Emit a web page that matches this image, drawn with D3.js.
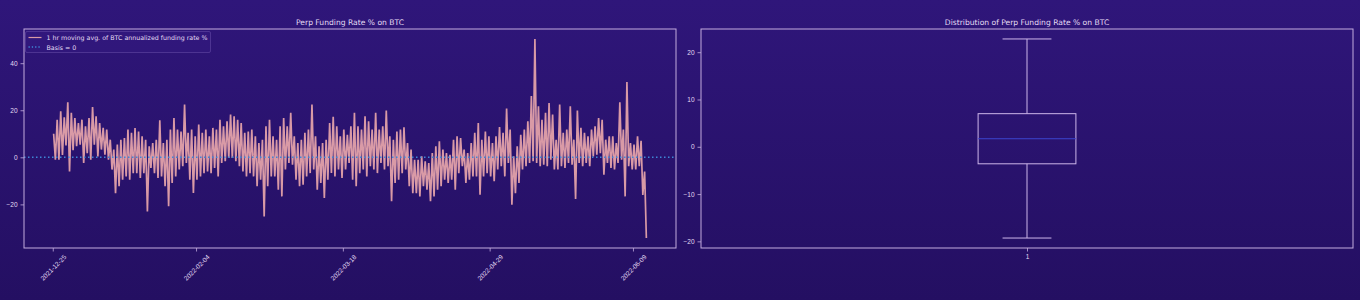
<!DOCTYPE html>
<html>
<head>
<meta charset="utf-8">
<script src="https://cdn.jsdelivr.net/npm/d3@7"></script>
<style>
  html, body { margin: 0; padding: 0; background: #2a1370; }
  svg { display: block; font-family: "DejaVu Sans", sans-serif; }
</style>
</head>
<body>
<svg id="chart" width="1360" height="300"></svg>
<script>
// funding rate samples: one high and one low per ~24h step
var startDate = new Date(2021, 11, 25, 0, 0);
var sampleHours = 24.3;
var fundingHigh = [
  10, 16, 19.6, 17, 23.4, 18.9, 16.7, 14.6, 16, 13.2, 16.7, 21.4, 17.4, 14.6, 12.5, 11.8, 7.5, 3.3, 5.4, 7.5,
  8.2, 11.8, 10.4, 12.5, 11, 8.9, 7.5, 4.7, 6.1, 7.5, 15.7, 6.1, 7.5, 11.8, 16.7, 11.8, 11, 22.4, 10.4, 11.8,
  8.9, 13.9, 10.4, 11.8, 8.9, 12.5, 11.8, 16, 13.2, 15.3, 18.2, 17.4, 16, 14.6, 10.4, 11, 11.8, 8.9, 6.1, 7.5,
  13.2, 16, 8.9, 7.5, 13.2, 16.7, 13.2, 18.9, 8.9, 6.1, 7.5, 10.4, 11.8, 22.4, 8.9, 4.7, 6.1, 7.5, 14.6, 17.2,
  13.2, 8.9, 11.8, 9.6, 13.2, 18.9, 13.2, 11.8, 17.4, 15.3, 11.8, 18.9, 11.8, 13.2, 19.9, 8.9, 7.5, 11, 11.8, 12.8,
  6.1, 3.3, -1, -1, 0.4, -1.7, -2.4, 1.8, 4.7, 6.8, 3.3, 1.8, 1.1, 7.5, 8.9, 8.2, 3.3, 1.8, 6.1, 10.4,
  14.6, 7.5, 11, 8.9, 6.1, 8.9, 12.9, 10.4, 20.7, 11.8, 0.4, 4.7, 9.6, 11.8, 15.3, 26, 50.3, 21.7, 16, 18.9,
  23.1, 18.2, 7.5, 22.4, 10.4, 11.8, 21.7, 7.5, 19.9, 12.5, 10.4, 8.9, 11.8, 13.2, 16.7, 16, 7.5, 8.9, 8.9, 6.1,
  23.4, 11.8, 32, 6.1, 5.4, 8.9, 7, -6
];
var fundingLow = [
  -1, -1, 1, 5, -6, 3, 4.7, 5.4, -2.4, 1.8, -1, 5.4, 0.4, 3.3, 1.1, -1, -5.2, -15.2, -12.3, -9.5,
  -8.1, -9.5, -6.7, -6.7, -8.8, -6.7, -23, -4.5, -6.7, -8.8, -8.1, -12.3, -20.8, -10.9, -8.1, -5.2, -3.8, -2.4, -9.5, -15.2,
  -9.5, -8.1, -6.7, -6, -6.7, -4.5, -8.1, -2.4, -1.7, -0.3, -0.3, -1.7, -3.8, -6, -8.1, -6.7, -8.1, -12.3, -9.5, -25.1,
  -12.3, -8.1, -8.1, -13.8, -16.6, -5.2, -2.4, -3.1, -9.5, -12.3, -11.6, -8.1, -6.7, -5.2, -13.8, -10.9, -17.3, -9.5, -6.7, -8.1,
  -5.2, -8.8, -5.2, -2.4, -9.5, -12.3, -6.7, -5.2, -8.1, -3.8, -5.2, -6.7, -2.4, -5.2, -3.8, -18.7, -10.9, -9.5, -6.7, -5.2,
  -12.3, -15.2, -15.2, -16.6, -12.3, -13.8, -18.7, -16.6, -13.8, -12.3, -9.5, -10.9, -9.5, -13.8, -6.7, -3.8, -10.9, -9.5, -8.1, -8.1,
  -15.9, -8.1, -6.7, -8.1, -10.2, -5.2, -3.8, -8.1, -2.4, -20.1, -15.2, -10.9, -5.2, -3.8, -2.4, -1.7, -2.4, -3.8, -3.1, -3.8,
  -1, -5.2, -5.2, -3.8, -4.5, -2.4, -3.1, -17.7, -2.4, -3.8, -2.4, -3.8, 0.4, 1.1, 1.8, -7.4, -2.4, -4.5, -5.2, -2.4,
  -1, -16.6, -3.8, -5.2, -5.2, -3.8, -16, -34.3
];
var xTickLabels = ['2021-12-25', '2022-02-04', '2022-03-18', '2022-04-29', '2022-06-09'];
var lineYTicks = [-20, 0, 20, 40];
var boxYTicks = [-20, -10, 0, 10, 20];
// whisker low, q1, median, q3, whisker high
var boxStats = [-19.3, -3.6, 1.7, 7.0, 22.8];
var boxCategories = [1];

var titleLeft = 'Perp Funding Rate % on BTC';
var titleRight = 'Distribution of Perp Funding Rate % on BTC';
var legendLabels = ['1 hr moving avg. of BTC annualized funding rate %', 'Basis = 0'];

var C = {
  text: '#e4dcf4',
  spine: '#c3acde',
  line: '#d99aa6',
  basis: '#3f86d6',
  box: '#cdb6ea',
  median: '#3b45cf'
};

var svg = d3.select('#chart');
var defs = svg.append('defs');
var grad = defs.append('linearGradient').attr('id', 'bg').attr('x1', 0).attr('y1', 0).attr('x2', 0).attr('y2', 1);
grad.append('stop').attr('offset', '0%').attr('stop-color', '#2f167a');
grad.append('stop').attr('offset', '100%').attr('stop-color', '#240f62');
svg.append('rect').attr('width', 1360).attr('height', 300).attr('fill', 'url(#bg)');

// build the series: high then low inside each step
var hour = 3600 * 1000;
var series = [];
fundingHigh.forEach(function(h, i) {
  series.push({ t: new Date(+startDate + (i * sampleHours + 6) * hour), v: h });
  series.push({ t: new Date(+startDate + (i * sampleHours + 18) * hour), v: fundingLow[i] });
});

var pad = function(ext, p) { var d = ext[1] - ext[0]; return [ext[0] - d * p, ext[1] + d * p]; };

var styleAxis = function(g) {
  g.select('.domain').remove();
  g.selectAll('line').attr('stroke', C.spine).attr('stroke-width', 0.8);
  g.selectAll('text').attr('fill', C.text).attr('font-size', '6.5px');
};

// ---------- left: time series ----------
var L = { x0: 24, x1: 676, y0: 29, y1: 248 };
var tExt = d3.extent(series, function(d) { return +d.t; });
var tDom = pad(tExt, 0.05);
var x = d3.scaleTime().domain([new Date(tDom[0]), new Date(tDom[1])]).range([L.x0, L.x1]);
var y = d3.scaleLinear().domain(pad(d3.extent(series, function(d) { return d.v; }), 0.05)).range([L.y1, L.y0]);

var left = svg.append('g');
left.append('path').datum(series)
  .attr('fill', 'none').attr('stroke', C.line).attr('stroke-width', 1.7).attr('stroke-linejoin', 'bevel')
  .attr('d', d3.line().x(function(d) { return x(d.t); }).y(function(d) { return y(d.v); }));

left.append('line').attr('x1', L.x0).attr('x2', L.x1).attr('y1', y(0)).attr('y2', y(0))
  .attr('stroke', C.basis).attr('stroke-width', 1.5).attr('stroke-dasharray', '1.5,2.5');

var xTickDates = xTickLabels.map(function(s) { return d3.timeParse('%Y-%m-%d')(s); });
var gx = left.append('g').attr('transform', 'translate(0,' + L.y1 + ')')
  .call(d3.axisBottom(x).tickValues(xTickDates).tickFormat(d3.timeFormat('%Y-%m-%d')).tickSize(3.5).tickPadding(2));
styleAxis(gx);
gx.selectAll('text')
  .attr('text-anchor', 'middle').attr('dy', null).attr('y', null)
  .attr('dominant-baseline', 'central')
  .attr('transform', 'translate(0,19.5) rotate(-45)');

var gy = left.append('g').attr('transform', 'translate(' + L.x0 + ',0)')
  .call(d3.axisLeft(y).tickValues(lineYTicks).tickFormat(d3.format('d')).tickSize(3.5).tickPadding(3));
styleAxis(gy);
gy.selectAll('text').text(function(d) { return d < 0 ? '\u2212' + Math.abs(d) : d; });

left.append('rect').attr('x', L.x0).attr('y', L.y0).attr('width', L.x1 - L.x0).attr('height', L.y1 - L.y0)
  .attr('fill', 'none').attr('stroke', C.spine).attr('stroke-width', 1);

left.append('text').attr('x', (L.x0 + L.x1) / 2).attr('y', 25).attr('text-anchor', 'middle')
  .attr('fill', C.text).attr('font-size', '7.6px').text(titleLeft);

// legend
var lg = left.append('g').attr('transform', 'translate(' + (L.x0 + 1.5) + ',' + (L.y0 + 2.5) + ')');
lg.append('rect').attr('width', 185).attr('height', 21).attr('rx', 1.5)
  .attr('fill', 'rgba(60,30,140,0.25)').attr('stroke', 'rgba(190,160,240,0.28)').attr('stroke-width', 0.8);
legendLabels.forEach(function(label, i) {
  var yy = 6 + i * 9.5;
  lg.append('line').attr('x1', 3).attr('x2', 16).attr('y1', yy).attr('y2', yy)
    .attr('stroke', i === 0 ? C.line : C.basis).attr('stroke-width', i === 0 ? 1.2 : 1.3)
    .attr('stroke-dasharray', i === 0 ? null : '1.3,2');
  lg.append('text').attr('x', 21).attr('y', yy).attr('dominant-baseline', 'central')
    .attr('fill', C.text).attr('font-size', '6.3px').text(label);
});

// ---------- right: box plot ----------
var R = { x0: 701, x1: 1353, y0: 29, y1: 248 };
var bx = d3.scaleLinear().domain([0.5, 1.5]).range([R.x0, R.x1]);
var by = d3.scaleLinear().domain(pad([boxStats[0], boxStats[4]], 0.05)).range([R.y1, R.y0]);
var right = svg.append('g');

boxCategories.forEach(function(c) {
  var cx = bx(c), hw = bx(c + 0.075) - cx, cw = bx(c + 0.0375) - cx;
  var g = right.append('g').attr('stroke', C.box).attr('stroke-width', 1).attr('fill', 'none');
  g.append('line').attr('x1', cx).attr('x2', cx).attr('y1', by(boxStats[0])).attr('y2', by(boxStats[1]));
  g.append('line').attr('x1', cx).attr('x2', cx).attr('y1', by(boxStats[3])).attr('y2', by(boxStats[4]));
  g.append('line').attr('x1', cx - cw).attr('x2', cx + cw).attr('y1', by(boxStats[0])).attr('y2', by(boxStats[0]));
  g.append('line').attr('x1', cx - cw).attr('x2', cx + cw).attr('y1', by(boxStats[4])).attr('y2', by(boxStats[4]));
  g.append('rect').attr('x', cx - hw).attr('width', 2 * hw)
    .attr('y', by(boxStats[3])).attr('height', by(boxStats[1]) - by(boxStats[3]));
  g.append('line').attr('x1', cx - hw).attr('x2', cx + hw).attr('y1', by(boxStats[2])).attr('y2', by(boxStats[2]))
    .attr('stroke', C.median);
});

var rgx = right.append('g').attr('transform', 'translate(0,' + R.y1 + ')')
  .call(d3.axisBottom(bx).tickValues(boxCategories).tickFormat(d3.format('d')).tickSize(3.5).tickPadding(2.5));
styleAxis(rgx);
var rgy = right.append('g').attr('transform', 'translate(' + R.x0 + ',0)')
  .call(d3.axisLeft(by).tickValues(boxYTicks).tickFormat(d3.format('d')).tickSize(3.5).tickPadding(3));
styleAxis(rgy);
rgy.selectAll('text').text(function(d) { return d < 0 ? '\u2212' + Math.abs(d) : d; });

right.append('rect').attr('x', R.x0).attr('y', R.y0).attr('width', R.x1 - R.x0).attr('height', R.y1 - R.y0)
  .attr('fill', 'none').attr('stroke', C.spine).attr('stroke-width', 1);
right.append('text').attr('x', (R.x0 + R.x1) / 2).attr('y', 25).attr('text-anchor', 'middle')
  .attr('fill', C.text).attr('font-size', '7.6px').text(titleRight);
</script>
</body>
</html>
